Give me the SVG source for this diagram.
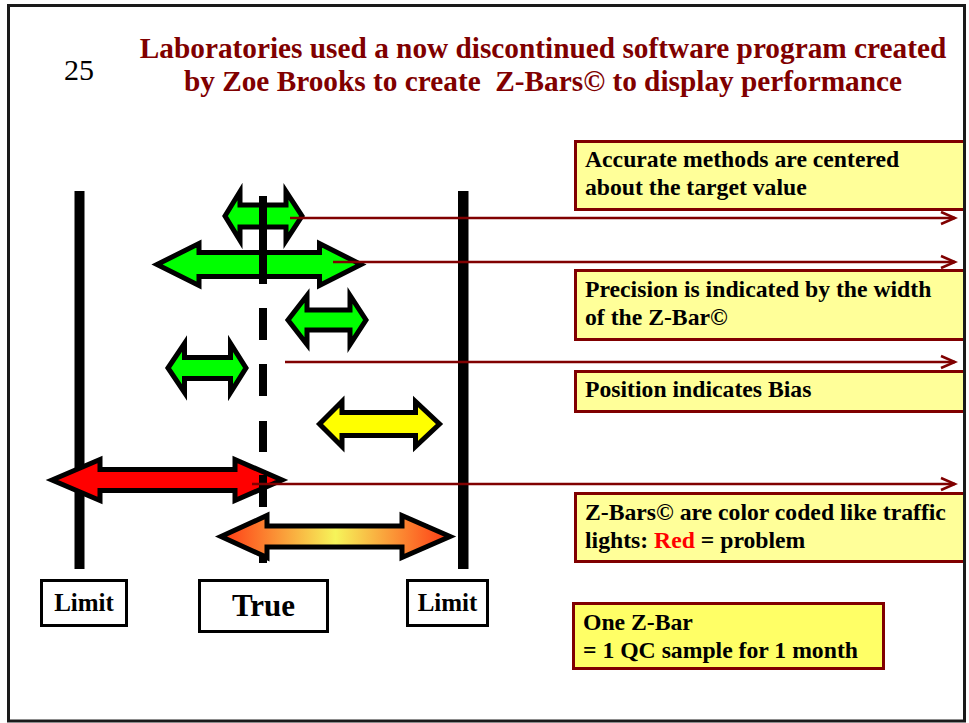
<svg xmlns="http://www.w3.org/2000/svg" width="969" height="723" viewBox="0 0 969 723">
<style>
.t{font-family:"Liberation Serif","Times New Roman",serif;font-weight:bold;}
.num{font-family:"Liberation Serif","Times New Roman",serif;font-weight:normal;font-size:30px;fill:#000;}
.title{fill:#800000;font-size:29.3px;}
.bx{font-size:23.7px;fill:#000;}
.note{fill:#ffff99;stroke:#800000;stroke-width:3;}
.lbl{fill:#fff;stroke:#000;stroke-width:3;}
.arr{stroke:#000;stroke-width:5;stroke-linejoin:miter;stroke-miterlimit:10;}
.conn{stroke:#800000;stroke-width:2.5;fill:none;}
</style>
<defs>
<marker id="ah" markerUnits="userSpaceOnUse" markerWidth="20" markerHeight="16" viewBox="-16 -8 18 16" refX="0" refY="0" orient="auto">
<path d="M-14,-6 L0,0 L-14,6" fill="none" stroke="#800000" stroke-width="2.5"/>
</marker>
<linearGradient id="og" x1="0" y1="0" x2="1" y2="0">
<stop offset="0" stop-color="#ff3814"/>
<stop offset="0.5" stop-color="#f6f45a"/>
<stop offset="1" stop-color="#ff3814"/>
</linearGradient>
</defs>
<rect x="0" y="0" width="969" height="723" fill="#fff"/>

<g id="notes">
<g id="note1"><rect class="note" x="575.5" y="141.5" width="389" height="68"/>
<text class="t bx" x="585" y="167">Accurate methods are centered</text>
<text class="t bx" x="585" y="195">about the target value</text></g>
<g id="note2"><rect class="note" x="575.5" y="270.5" width="389" height="69"/>
<text class="t bx" x="585" y="297">Precision is indicated by the width</text>
<text class="t bx" x="585" y="325">of the Z-Bar©</text></g>
<g id="note3"><rect class="note" x="575.5" y="371.5" width="389" height="40"/>
<text class="t bx" x="585" y="397">Position indicates Bias</text></g>
<g id="note4"><rect class="note" x="575.5" y="493.5" width="389" height="68"/>
<text class="t bx" x="585" y="520">Z-Bars© are color coded like traffic</text>
<text class="t bx" x="585" y="548">lights: <tspan fill="#ff0000">Red</tspan> = problem</text></g>
<g id="note5"><rect class="note" x="573.5" y="603.5" width="310" height="65" style="fill:#ffff66"/>
<text class="t bx" x="583" y="630">One Z-Bar</text>
<text class="t bx" x="583" y="658">= 1 QC sample for 1 month</text></g>
</g>

<g id="frame"><rect x="8.5" y="5.5" width="956" height="715.5" fill="none" stroke="#1a1a1a" stroke-width="3"/></g>

<g id="header">
<text class="num" x="64" y="80">25</text>
<text class="t title" x="543" y="58" text-anchor="middle">Laboratories used a now discontinued software program created</text>
<text class="t title" x="543" y="91" text-anchor="middle" xml:space="preserve">by Zoe Brooks to create  Z-Bars© to display performance</text>
</g>

<g id="limits">
<rect id="leftLimitBar" x="74.5" y="191" width="10" height="378" fill="#000"/>
<rect id="rightLimitBar" x="458" y="191" width="10.5" height="378" fill="#000"/>
</g>

<g id="zbars">
<path id="green1" class="arr" fill="#00ff00" d="M225,216 L240,191.5 L240,205 L286,205 L286,191.5 L302,216 L286,240.5 L286,227 L240,227 L240,240.5 Z"/>
<path id="green2" class="arr" fill="#00ff00" d="M157,264.5 L199,243.5 L199,252.5 L319.5,252.5 L319.5,243.5 L361,264.5 L319.5,285.5 L319.5,276.5 L199,276.5 L199,285.5 Z"/>
<path id="green3" class="arr" fill="#00ff00" d="M288,320 L307,295.5 L307,310 L350,310 L350,295.5 L366,320 L350,344.5 L350,330 L307,330 L307,344.5 Z"/>
<path id="green4" class="arr" fill="#00ff00" d="M168,368 L184.5,343.5 L184.5,357.5 L230.5,357.5 L230.5,343.5 L246,368 L230.5,392.5 L230.5,378.5 L184.5,378.5 L184.5,392.5 Z"/>
<path id="red" class="arr" fill="#ff0000" d="M52,480 L100,459.5 L100,469.5 L235,469.5 L235,459.5 L282,480 L235,500.5 L235,490.5 L100,490.5 L100,500.5 Z"/>
<path id="trueLine" d="M263,196V284 M263,308V340 M263,364V396 M263,421V452 M263,475V507 M263,531V563" stroke="#000" stroke-width="8" fill="none"/>
<path id="yellow" class="arr" fill="#ffff00" d="M319.5,424 L342,401.5 L342,412.5 L415.5,412.5 L415.5,401.5 L439.5,424 L415.5,446.5 L415.5,435.5 L342,435.5 L342,446.5 Z"/>
<path id="orange" class="arr" fill="url(#og)" d="M221,536.5 L267,515.5 L267,526 L402,526 L402,515.5 L450,536.5 L402,557.5 L402,547 L267,547 L267,557.5 Z"/>
</g>

<g id="axisLabels">
<g id="limitLeft"><rect class="lbl" x="41.5" y="580.5" width="85" height="45"/>
<text class="t" x="84" y="610.5" font-size="25" text-anchor="middle">Limit</text></g>
<g id="trueLabel"><rect class="lbl" x="199.5" y="580.5" width="128" height="51"/>
<text class="t" x="263.5" y="616" font-size="31" text-anchor="middle">True</text></g>
<g id="limitRight"><rect class="lbl" x="407.5" y="580.5" width="80" height="45"/>
<text class="t" x="447.5" y="610.5" font-size="25" text-anchor="middle">Limit</text></g>
</g>

<g id="connectors">
<line class="conn" x1="290" y1="218" x2="955" y2="218" marker-end="url(#ah)"/>
<line class="conn" x1="333" y1="262" x2="955" y2="262" marker-end="url(#ah)"/>
<line class="conn" x1="285" y1="362" x2="955" y2="362" marker-end="url(#ah)"/>
<line class="conn" x1="252" y1="484" x2="955" y2="484" marker-end="url(#ah)"/>
</g>
</svg>
